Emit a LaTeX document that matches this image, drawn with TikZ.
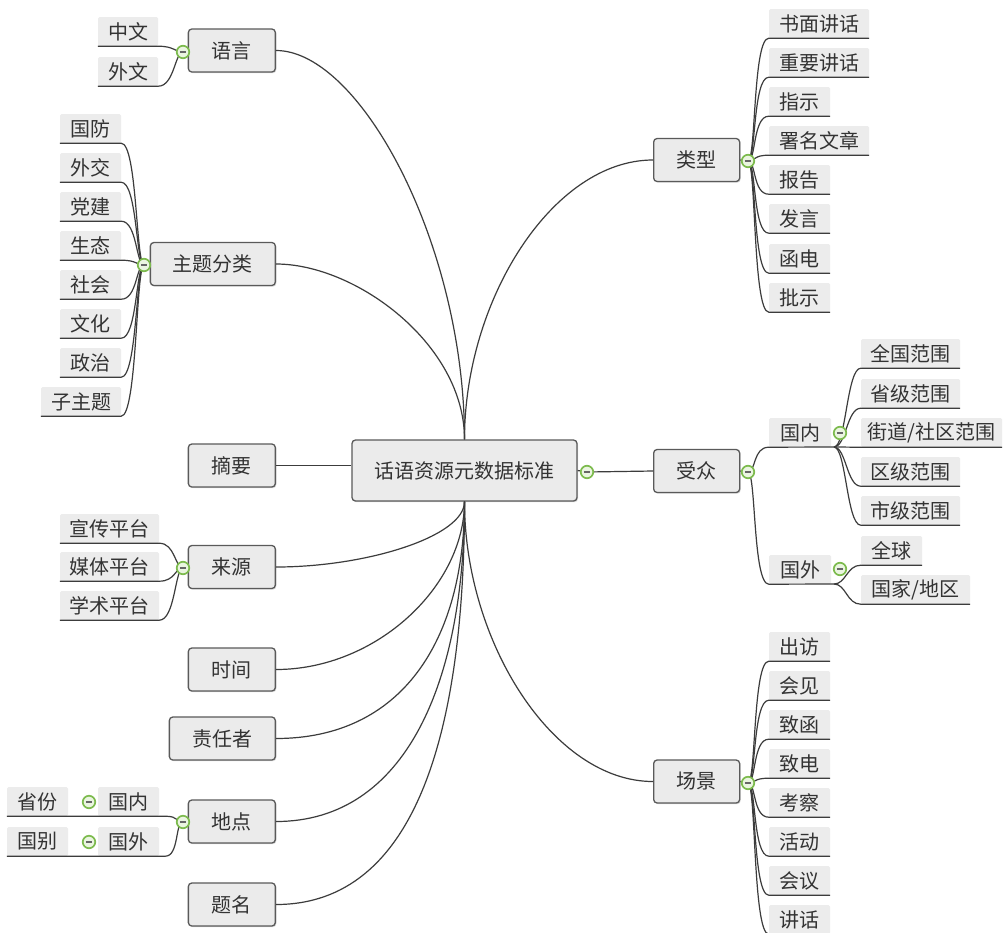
\documentclass[tikz,border=0pt]{standalone}
\usepackage{fontspec}
\newfontfamily\cjk{Noto Sans CJK SC}
\usetikzlibrary{shadows,calc}
\definecolor{boxfill}{HTML}{EBEBEB}
\definecolor{boxline}{HTML}{5A5A5A}
\definecolor{leaffill}{HTML}{ECECEC}
\definecolor{linec}{HTML}{3C3C3C}
\definecolor{txt}{HTML}{333333}
\definecolor{mkgreen}{HTML}{7DBB4E}
\definecolor{mkfill}{HTML}{EAF5E0}
\tikzset{
 topic/.style={draw=boxline, line width=1.3pt, fill=boxfill, rounded corners=3.5pt, minimum height=43pt, inner sep=0pt, text=txt, font=\cjk\fontsize{20}{24}\selectfont, drop shadow={shadow xshift=1pt,shadow yshift=-1.2pt,opacity=0.3}},
 leaf/.style={fill=leaffill, rounded corners=1.5pt, minimum height=29pt, inner sep=0pt, text=txt, font=\cjk\fontsize{20}{24}\selectfont},
 conn/.style={draw=linec, line width=1.2pt},
 mk/.style={circle, draw=mkgreen, fill=mkfill, line width=1.7pt, minimum size=12.5pt, inner sep=0pt,
   path picture={\draw[black!60,line width=1.6pt] ([xshift=-3.2pt]path picture bounding box.center) -- ([xshift=3.2pt]path picture bounding box.center);}},
}
\begin{document}
\begin{tikzpicture}[x=1pt,y=-1pt]
\fill[white] (0,0) rectangle (1003,932);
\useasboundingbox (0,0) rectangle (1003,932);

% ---------- root and main topics ----------
\node[topic, minimum width=225pt, minimum height=61pt] (root) at (464.5,470.5) {话语资源元数据标准};

\node[topic, minimum width=87pt, anchor=east] (yy) at (276,50.5) {语言};
\node[topic, minimum width=125pt, anchor=east] (zt) at (276,264) {主题分类};
\node[topic, minimum width=87pt, anchor=east] (zy) at (276,465.5) {摘要};
\node[topic, minimum width=87pt, anchor=east] (ly) at (276,567) {来源};
\node[topic, minimum width=87pt, anchor=east] (sj) at (276,669.5) {时间};
\node[topic, minimum width=106pt, anchor=east] (zrz) at (276,738.5) {责任者};
\node[topic, minimum width=87pt, anchor=east] (dd) at (276,821.5) {地点};
\node[topic, minimum width=87pt, anchor=east] (tm) at (276,904.5) {题名};

\node[topic, minimum width=86pt, anchor=west] (lx) at (653,160) {类型};
\node[topic, minimum width=86pt, anchor=west] (sz) at (653,471) {受众};
\node[topic, minimum width=86pt, anchor=west] (cj) at (653,781.5) {场景};

% ---------- marker positions ----------
\coordinate (m-root) at (587,472);
\coordinate (m-lx) at (748,161);
\coordinate (m-sz) at (748,472);
\coordinate (m-cj) at (748,783);
\coordinate (m-gn) at (840,433);
\coordinate (m-gw) at (840,569);
\coordinate (m-yy) at (183,52);
\coordinate (m-zt) at (144,265);
\coordinate (m-ly) at (183,568);
\coordinate (m-dd) at (183,822);
\coordinate (m-dn) at (89,802);
\coordinate (m-dw) at (89,842);

% ---------- leaves: 类型 ----------
\node[leaf, minimum width=100pt] (lx1) at (819,23.5) {书面讲话};
\node[leaf, minimum width=100pt] (lx2) at (819,62.5) {重要讲话};
\node[leaf, minimum width=61pt] (lx3) at (799.5,101.5) {指示};
\node[leaf, minimum width=100pt] (lx4) at (819,140.5) {署名文章};
\node[leaf, minimum width=61pt] (lx5) at (799.5,179.5) {报告};
\node[leaf, minimum width=61pt] (lx6) at (799.5,218.5) {发言};
\node[leaf, minimum width=61pt] (lx7) at (799.5,258.5) {函电};
\node[leaf, minimum width=61pt] (lx8) at (799.5,297.5) {批示};

% ---------- leaves: 场景 ----------
\node[leaf, minimum width=61pt] (cj1) at (799.5,646.5) {出访};
\node[leaf, minimum width=61pt] (cj2) at (799.5,685.5) {会见};
\node[leaf, minimum width=61pt] (cj3) at (799.5,724.5) {致函};
\node[leaf, minimum width=61pt] (cj4) at (799.5,763.5) {致电};
\node[leaf, minimum width=61pt] (cj5) at (799.5,802.5) {考察};
\node[leaf, minimum width=61pt] (cj6) at (799.5,841.5) {活动};
\node[leaf, minimum width=61pt] (cj7) at (799.5,880.5) {会议};
\node[leaf, minimum width=61pt] (cj8) at (799.5,919.5) {讲话};

% ---------- leaves: 受众 ----------
\node[leaf, minimum width=62pt] (gn) at (800,432.5) {国内};
\node[leaf, minimum width=62pt] (gw) at (800,569.5) {国外};
\coordinate (gnj) at (834,447);
\coordinate (gwj) at (834,584);
\node[leaf, minimum width=99pt] (qg) at (910.5,353.5) {全国范围};
\node[leaf, minimum width=99pt] (sjf) at (910.5,393.5) {省级范围};
\node[leaf, minimum width=141pt] (jd) at (931.5,432.5) {街道/社区范围};
\node[leaf, minimum width=99pt] (qj) at (910.5,471.5) {区级范围};
\node[leaf, minimum width=99pt] (shj) at (910.5,510.5) {市级范围};
\node[leaf, minimum width=61pt] (qq) at (891.5,550.5) {全球};
\node[leaf, minimum width=109pt] (gj) at (915.5,589.5) {国家/地区};

% ---------- leaves: 语言 ----------
\node[leaf, minimum width=60pt] (zw) at (128,31.5) {中文};
\node[leaf, minimum width=60pt] (ww) at (128,71.5) {外文};

% ---------- leaves: 主题分类 ----------
\node[leaf, minimum width=61pt] (zt1) at (90.5,128.5) {国防};
\node[leaf, minimum width=61pt] (zt2) at (90.5,167.5) {外交};
\node[leaf, minimum width=61pt] (zt3) at (90.5,206.5) {党建};
\node[leaf, minimum width=61pt] (zt4) at (90.5,245.5) {生态};
\node[leaf, minimum width=61pt] (zt5) at (90.5,284.5) {社会};
\node[leaf, minimum width=61pt] (zt6) at (90.5,323.5) {文化};
\node[leaf, minimum width=61pt] (zt7) at (90.5,362.5) {政治};
\node[leaf, minimum width=80pt] (zt8) at (81,401.5) {子主题};

% ---------- leaves: 来源 ----------
\node[leaf, minimum width=99pt] (ly1) at (109.5,528.5) {宣传平台};
\node[leaf, minimum width=99pt] (ly2) at (109.5,566.5) {媒体平台};
\node[leaf, minimum width=99pt] (ly3) at (109.5,605.5) {学术平台};

% ---------- leaves: 地点 ----------
\node[leaf, minimum width=61pt] (dn) at (128.5,801.5) {国内};
\node[leaf, minimum width=61pt] (sf) at (37.5,801.5) {省份};
\node[leaf, minimum width=61pt] (dw) at (128.5,841.5) {国外};
\node[leaf, minimum width=61pt] (gb) at (37.5,841.5) {国别};

% ---------- connectors: root to main topics ----------
\draw[conn] (yy.east) .. controls +(84,0) and +(0,-195) .. (root.north);
\draw[conn] (zt.east) .. controls +(80,0) and +(0,-95) .. (root.north);
\draw[conn] (zy.east) -- (zy.east -| root.west);
\draw[conn] (ly.east) .. controls +(90,0) and +(0,35) .. (root.south);
\draw[conn] (sj.east) .. controls +(100,0) and +(0,85) .. (root.south);
\draw[conn] (zrz.east) .. controls +(125,0) and +(0,140) .. (root.south);
\draw[conn] (dd.east) .. controls +(130,0) and +(0,180) .. (root.south);
\draw[conn] (tm.east) .. controls +(140,0) and +(0,230) .. (root.south);
\draw[conn] (root.north) .. controls +(0,-140) and +(-100,0) .. (lx.west);
\draw[conn] (root.east) -- (m-root) -- (sz.west);
\draw[conn] (root.south) .. controls +(0,140) and +(-100,0) .. (cj.west);

% ---------- connectors: topics to markers ----------
\draw[conn] (lx.east) -- (m-lx);
\draw[conn] (sz.east) -- (m-sz);
\draw[conn] (cj.east) -- (m-cj);
\draw[conn] (yy.west) -- (m-yy);
\draw[conn] (zt.west) -- (m-zt);
\draw[conn] (ly.west) -- (m-ly);
\draw[conn] (dd.west) -- (m-dd);

% ---------- connectors: leaves ----------
\foreach \n in {lx1,lx2,lx3,lx4,lx5,lx6,lx7,lx8}
  \draw[conn] (m-lx) .. controls +(8,0) and +(-16,0) .. (\n.south west) -- (\n.south east);
\foreach \n in {cj1,cj2,cj3,cj4,cj5,cj6,cj7,cj8}
  \draw[conn] (m-cj) .. controls +(8,0) and +(-16,0) .. (\n.south west) -- (\n.south east);
\draw[conn] (m-sz) .. controls +(8,0) and +(-16,0) .. (gn.south west) -- (gnj);
\draw[conn] (m-sz) .. controls +(8,0) and +(-16,0) .. (gw.south west) -- (gwj);
\foreach \n in {qg,sjf,jd,qj,shj}
  \draw[conn] (gnj) .. controls +(12,0) and +(-14,0) .. (\n.south west) -- (\n.south east);
\foreach \n in {qq,gj}
  \draw[conn] (gwj) .. controls +(12,0) and +(-14,0) .. (\n.south west) -- (\n.south east);
\foreach \n in {zw,ww}
  \draw[conn] (m-yy) .. controls +(-8,0) and +(16,0) .. (\n.south east) -- (\n.south west);
\foreach \n in {zt1,zt2,zt3,zt4,zt5,zt6,zt7,zt8}
  \draw[conn] (m-zt) .. controls +(-8,0) and +(16,0) .. (\n.south east) -- (\n.south west);
\foreach \n in {ly1,ly2,ly3}
  \draw[conn] (m-ly) .. controls +(-8,0) and +(16,0) .. (\n.south east) -- (\n.south west);
\draw[conn] (m-dd) .. controls +(-8,0) and +(14,0) .. ([xshift=6pt]dn.south east) -- (sf.south west);
\draw[conn] (m-dd) .. controls +(-8,0) and +(14,0) .. ([xshift=6pt]dw.south east) -- (gb.south west);

% ---------- markers ----------
\foreach \m in {m-root,m-lx,m-sz,m-cj,m-gn,m-gw,m-yy,m-zt,m-ly,m-dd,m-dn,m-dw}
  \node[mk] at (\m) {};
\end{tikzpicture}
\end{document}
